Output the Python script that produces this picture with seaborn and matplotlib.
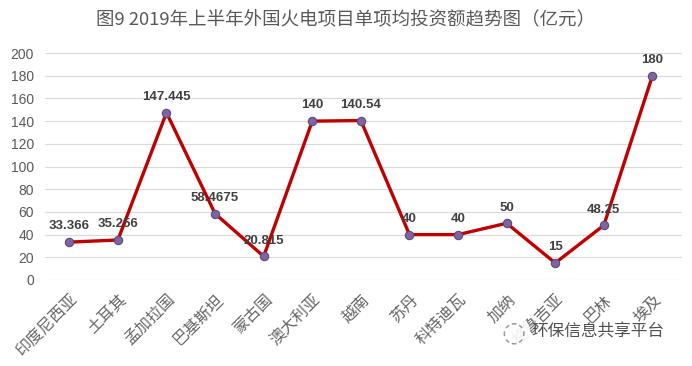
import pandas as pd
import seaborn as sns
import matplotlib.pyplot as plt

# data
countries = ['印度尼西亚', '土耳其', '孟加拉国', '巴基斯坦', '蒙古国', '澳大利亚', '越南',
             '苏丹', '科特迪瓦', '加纳', '格鲁吉亚', '巴林', '埃及']
values = [33.366, 35.256, 147.445, 58.4675, 20.815, 140, 140.54, 40, 40, 50, 15, 48.25, 180]
value_labels = ['33.366', '35.256', '147.445', '58.4675', '20.815', '140', '140.54',
                '40', '40', '50', '15', '48.25', '180']

df = pd.DataFrame({'country': countries, 'value': values})

sns.set_style('white')
plt.rcParams['font.family'] = ['Noto Sans CJK SC', 'DejaVu Sans']

fig = plt.figure(figsize=(6.92, 3.66), dpi=100)
ax = fig.add_axes([0.065, 0.235, 0.92, 0.62])

sns.lineplot(data=df, x='country', y='value', sort=False, color='#C00000', linewidth=2.4,
             marker='o', markersize=6, markerfacecolor='#8064A2', markeredgecolor='#5A4A7A',
             markeredgewidth=0.8, ax=ax)

for i, (v, lab) in enumerate(zip(values, value_labels)):
    ax.annotate(lab, (i, v), xytext=(0, 7), textcoords='offset points', ha='center',
                va='bottom', fontsize=9.5, fontweight='bold', color='#404040',
                family='Liberation Sans')

ax.set_ylim(0, 200)
ax.set_yticks(range(0, 201, 20))
ax.set_xlim(-0.5, len(countries) - 0.4)
ax.grid(axis='y', color='#D9D9D9', linewidth=0.8)
ax.set_axisbelow(True)
for s in ax.spines.values():
    s.set_visible(False)
ax.set_xlabel('')
ax.set_ylabel('')
ax.tick_params(axis='y', labelsize=10, labelcolor='#595959', length=0, pad=8)
ax.tick_params(axis='x', labelsize=11.5, labelcolor='#666666', length=0, pad=8)
plt.setp(ax.get_xticklabels(), rotation=45, ha='right', rotation_mode='anchor')
for t in ax.get_yticklabels():
    t.set_family('Liberation Sans')

fig.suptitle('图9 2019年上半年外国火电项目单项均投资额趋势图（亿元）', y=0.97,
             fontsize=13.3, color='#595959')

# watermark
fig.text(0.742, 0.093, '◌', fontsize=20, color='#9A9A9A', family='DejaVu Sans',
         ha='center', va='center',
         bbox=dict(boxstyle='circle,pad=0.1', facecolor='white', edgecolor='none', alpha=0.9))
fig.text(0.768, 0.093, '环保信息共享平台', fontsize=12, color='#505050',
         ha='left', va='center')

plt.savefig('out.png', dpi=100)
